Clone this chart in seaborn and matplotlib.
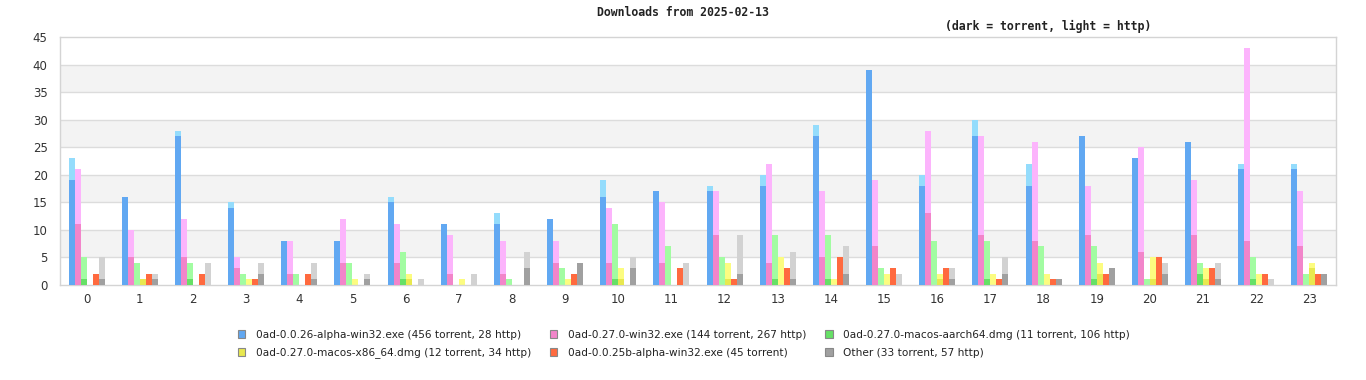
import numpy as np
import pandas as pd
import matplotlib
matplotlib.use('Agg')
import matplotlib.pyplot as plt
import seaborn as sns
from matplotlib.patches import Patch

hours = list(range(24))

packages = [
    '0ad-0.0.26-alpha-win32.exe',
    '0ad-0.27.0-win32.exe',
    '0ad-0.27.0-macos-aarch64.dmg',
    '0ad-0.27.0-macos-x86_64.dmg',
    '0ad-0.0.25b-alpha-win32.exe',
    'Other',
]

# torrent / http downloads per hour
win26_torrent = [19, 16, 27, 14, 8, 8, 15, 11, 11, 12, 16, 17, 17, 18, 27, 39, 18, 27, 18, 27, 23, 26, 21, 21]
win26_http = [4, 0, 1, 1, 0, 0, 1, 0, 2, 0, 3, 0, 1, 2, 2, 0, 2, 3, 4, 0, 0, 0, 1, 1]
win27_torrent = [11, 5, 5, 3, 2, 4, 4, 2, 2, 4, 4, 4, 9, 4, 5, 7, 13, 9, 8, 9, 6, 9, 8, 7]
win27_http = [10, 5, 7, 2, 6, 8, 7, 7, 6, 4, 10, 11, 8, 18, 12, 12, 15, 18, 18, 9, 19, 10, 35, 10]
arm_torrent = [1, 0, 1, 0, 0, 0, 1, 0, 0, 0, 1, 0, 0, 1, 1, 0, 0, 1, 0, 1, 0, 2, 1, 0]
arm_http = [4, 4, 3, 2, 2, 4, 5, 0, 1, 3, 10, 7, 5, 8, 8, 3, 8, 7, 7, 6, 1, 2, 4, 2]
x86_torrent = [0, 1, 0, 0, 0, 0, 1, 0, 0, 0, 1, 0, 1, 0, 0, 0, 1, 0, 0, 2, 1, 1, 0, 3]
x86_http = [0, 0, 0, 1, 0, 1, 1, 1, 0, 1, 2, 0, 3, 5, 1, 2, 1, 2, 2, 2, 4, 2, 2, 1]
win25_torrent = [2, 2, 2, 1, 2, 0, 0, 0, 0, 2, 0, 3, 1, 3, 5, 3, 3, 1, 1, 2, 5, 3, 2, 2]
win25_http = [0] * 24
other_torrent = [1, 1, 0, 2, 1, 1, 0, 0, 3, 4, 3, 0, 2, 1, 2, 0, 1, 2, 1, 3, 2, 1, 0, 2]
other_http = [4, 1, 4, 2, 3, 1, 1, 2, 3, 0, 2, 4, 7, 5, 5, 2, 2, 3, 0, 0, 2, 3, 1, 0]

torrents = [win26_torrent, win27_torrent, arm_torrent, x86_torrent, win25_torrent, other_torrent]
https = [win26_http, win27_http, arm_http, x86_http, win25_http, other_http]

dark = ['#61a8f2', '#f285ca', '#66e066', '#e8e84f', '#ff6a3f', '#a0a0a0']
light = ['#94dcfc', '#fcb4fc', '#a2fca2', '#fcfc80', '#ff6a3f', '#d2d2d2']

rows = []
for pkg, t, h in zip(packages, torrents, https):
    for hr, tv, hv in zip(hours, t, h):
        rows.append({'hour': str(hr), 'package': pkg, 'torrent': tv, 'total': tv + hv})
df = pd.DataFrame(rows)

sns.set_style('white')
plt.rcParams['font.family'] = ['DejaVu Sans']

fig = plt.figure(figsize=(13.66, 3.80), dpi=100)
ax = fig.add_axes([60 / 1366, 1 - 285 / 380, 1276 / 1366, 248 / 380])

# alternating background bands
for lo in range(5, 45, 10):
    ax.axhspan(lo, lo + 5, color='#f3f3f3', zorder=0, lw=0)
for y in range(5, 45, 5):
    ax.axhline(y, color='#dcdcdc', lw=1.0, zorder=0.5)

order = [str(h) for h in hours]
# light = total (torrent + http), dark = torrent drawn over it
sns.barplot(data=df, x='hour', y='total', hue='package', order=order, hue_order=packages,
            palette=light, width=0.68, dodge=True, saturation=1, legend=False,
            errorbar=None, ax=ax, zorder=2)
sns.barplot(data=df, x='hour', y='torrent', hue='package', order=order, hue_order=packages,
            palette=dark, width=0.68, dodge=True, saturation=1, legend=False,
            errorbar=None, ax=ax, zorder=3)
for p in ax.patches:
    p.set_linewidth(0)

ax.set_xlim(-0.5, 23.5)
ax.set_ylim(0, 45)
ax.set_yticks(range(0, 46, 5))
ax.set_xlabel('')
ax.set_ylabel('')
ax.tick_params(axis='both', length=0, labelsize=8.5, labelcolor='#333333')
ax.tick_params(axis='y', pad=9)
ax.tick_params(axis='x', pad=6)
for s in ax.spines.values():
    s.set_color('#d4d4d4')
    s.set_linewidth(1.0)

fig.text(683 / 1366, 1 - 13 / 380, 'Downloads from 2025-02-13', ha='center', va='center',
         family='DejaVu Sans Mono', weight='bold', fontsize=8.3, color='#222222')
fig.text(1048 / 1366, 1 - 26 / 380, '(dark = torrent, light = http)', ha='center', va='center',
         family='DejaVu Sans Mono', weight='bold', fontsize=8.3, color='#222222')

labels = []
for pkg, t, h in zip(packages, torrents, https):
    st, sh = sum(t), sum(h)
    if sh:
        labels.append(f'{pkg} ({st} torrent, {sh} http)')
    else:
        labels.append(f'{pkg} ({st} torrent)')

handles = [Patch(facecolor=c, edgecolor='#888888', linewidth=0.8) for c in dark]
idx = [0, 3, 1, 4, 2, 5]
leg = fig.legend([handles[i] for i in idx], [labels[i] for i in idx], ncol=3,
                 loc='center', bbox_to_anchor=(684 / 1366, 1 - 344 / 380), frameon=False,
                 fontsize=7.6, handlelength=0.7, handleheight=0.7, handletextpad=1.0,
                 columnspacing=1.8, labelspacing=0.75)
for t in leg.get_texts():
    t.set_color('#222222')

fig.savefig('out.png', dpi=100)
